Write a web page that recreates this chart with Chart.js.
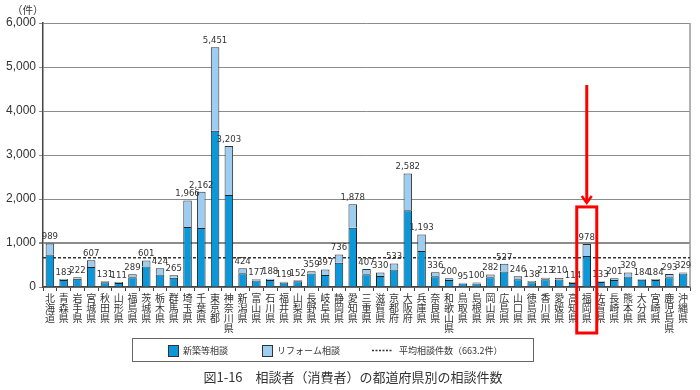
<!DOCTYPE html>
<html>
<head>
<meta charset="utf-8">
<script src="https://cdn.jsdelivr.net/npm/chart.js@4"></script>
<style>
  body { margin: 0; background: #fff; }
</style>
</head>
<body>
<canvas id="canvas" width="700" height="390"></canvas>
<script>
var categories = ['北海道','青森県','岩手県','宮城県','秋田県','山形県','福島県','茨城県','栃木県','群馬県',
  '埼玉県','千葉県','東京都','神奈川県','新潟県','富山県','石川県','福井県','山梨県','長野県',
  '岐阜県','静岡県','愛知県','三重県','滋賀県','京都府','大阪府','兵庫県','奈良県','和歌山県',
  '鳥取県','島根県','岡山県','広島県','山口県','徳島県','香川県','愛媛県','高知県','福岡県',
  '佐賀県','長崎県','熊本県','大分県','宮崎県','鹿児島県','沖縄県'];
var newBuild = [740,160,190,455,106,90,220,465,285,210,
  1364,1340,3553,2090,315,150,160,100,130,305,
  275,553,1348,290,250,400,1742,820,245,160,
  82,82,220,350,176,110,175,170,92,705,
  115,160,238,165,160,220,305];
var reform = [249,23,32,152,25,21,69,136,139,55,
  602,822,1898,1113,109,27,28,19,22,54,
  122,183,530,117,80,133,840,373,91,40,
  13,18,62,177,70,28,38,40,22,273,
  18,41,91,19,24,73,24];
var yTicks = [0,1000,2000,3000,4000,5000,6000];
var averageValue = 663.2;
var highlightIndex = 39;

var darkBlue = '#0a98da';
var lightBlue = '#9dcdf0';
var jp = "'Noto Sans CJK JP', 'Noto Sans', sans-serif";

var extras = {
  id: 'extras',
  beforeDatasetsDraw: function(chart) {
    var c = chart.ctx, a = chart.chartArea, y = chart.scales.y;
    c.save();
    c.strokeStyle = '#999';
    c.lineWidth = 1.5;
    c.beginPath();
    c.moveTo(a.right, a.top);
    c.lineTo(a.right, a.bottom);
    c.stroke();
    var ay = y.getPixelForValue(averageValue);
    c.strokeStyle = '#333';
    c.setLineDash([3, 2]);
    c.beginPath();
    c.moveTo(a.left, ay);
    c.lineTo(a.right, ay);
    c.stroke();
    c.restore();
  },
  afterDatasetsDraw: function(chart) {
    var c = chart.ctx;
    var top = chart.getDatasetMeta(1).data;
    c.save();
    c.font = "9.5px 'Liberation Sans Narrow', 'DejaVu Sans Condensed', sans-serif";
    c.fillStyle = '#333';
    c.textAlign = 'center';
    c.textBaseline = 'bottom';
    top.forEach(function(el, i) {
      var total = newBuild[i] + reform[i];
      c.fillText(total.toLocaleString('en-US'), el.x, el.y - 2);
    });
    c.restore();
  },
  afterDraw: function(chart) {
    var c = chart.ctx, a = chart.chartArea, x = chart.scales.x, y = chart.scales.y;
    c.save();
    // unit
    c.font = '10.5px ' + jp;
    c.fillStyle = '#333';
    c.textBaseline = 'middle';
    c.fillText('（件）', 12, 10);

    // highlight
    var hx = x.getPixelForValue(highlightIndex);
    c.strokeStyle = '#ff0000';
    c.lineWidth = 3;
    c.strokeRect(hx - 10, y.getPixelForValue(1820), 20, a.bottom + 46 - y.getPixelForValue(1820));
    var tipY = y.getPixelForValue(1910);
    c.beginPath();
    c.moveTo(hx, y.getPixelForValue(4590));
    c.lineTo(hx, tipY - 1);
    c.stroke();
    c.lineWidth = 2.5;
    c.beginPath();
    c.moveTo(hx - 5, tipY - 7);
    c.lineTo(hx, tipY);
    c.lineTo(hx + 5, tipY - 7);
    c.stroke();

    // legend
    c.lineWidth = 1;
    c.strokeStyle = '#666';
    c.strokeRect(132.5, 338.5, 401, 23);
    c.strokeStyle = '#333';
    c.fillStyle = darkBlue;
    c.fillRect(168, 345, 11, 12);
    c.strokeRect(168.5, 345.5, 10, 11);
    c.fillStyle = lightBlue;
    c.fillRect(262, 345, 11, 12);
    c.strokeRect(262.5, 345.5, 10, 11);
    c.lineWidth = 1.5;
    c.setLineDash([2, 1.5]);
    c.beginPath();
    c.moveTo(372, 350.5);
    c.lineTo(393, 350.5);
    c.stroke();
    c.setLineDash([]);
    c.fillStyle = '#333';
    c.font = '9px ' + jp;
    c.textBaseline = 'middle';
    c.fillText('新築等相談', 183, 351);
    c.fillText('リフォーム相談', 277, 351);
    c.fillText('平均相談件数（663.2件）', 399, 351);

    // caption
    c.font = '13px ' + jp;
    c.textAlign = 'center';
    c.fillText('図1-16　相談者（消費者）の都道府県別の相談件数', 353, 377);
    c.restore();
  }
};

var ctx = document.getElementById('canvas').getContext('2d');
var myChart = new Chart(ctx, {
  type: 'bar',
  data: {
    labels: categories.map(function(s) { return s.split(''); }),
    datasets: [{
      label: '新築等相談',
      data: newBuild,
      backgroundColor: darkBlue,
      borderColor: '#222',
      borderWidth: 1,
      categoryPercentage: 1,
      barPercentage: 0.62
    }, {
      label: 'リフォーム相談',
      data: reform,
      backgroundColor: lightBlue,
      borderColor: '#333',
      borderWidth: 1,
      categoryPercentage: 1,
      barPercentage: 0.62
    }]
  },
  options: {
    responsive: false,
    animation: false,
    layout: { padding: { top: 23, right: 10, bottom: 53, left: 0 } },
    plugins: { legend: { display: false }, tooltip: { enabled: false } },
    scales: {
      x: {
        stacked: true,
        grid: { drawOnChartArea: false, tickLength: 4, color: '#444' },
        border: { color: '#444', width: 1.5 },
        ticks: {
          autoSkip: false, maxRotation: 0, minRotation: 0, padding: 2,
          color: '#333',
          font: { family: jp, size: 10, lineHeight: 1 }
        },
        afterFit: function(s) { s.height = 50; }
      },
      y: {
        stacked: true,
        min: 0,
        max: 6000,
        afterBuildTicks: function(s) { s.ticks = yTicks.map(function(v) { return { value: v }; }); },
        ticks: {
          color: '#333',
          padding: 3,
          font: { family: "'Liberation Sans', Arial, sans-serif", size: 12 },
          callback: function(v) { return v.toLocaleString('en-US'); }
        },
        grid: {
          color: '#8c8c8c',
          tickLength: 4,
          lineWidth: function(c) { return c.tick && c.tick.value === 1000 ? 2 : 1; }
        },
        border: { color: '#444', width: 1.5 },
        afterFit: function(s) { s.width = 43; }
      }
    }
  },
  plugins: [extras]
});
</script>
</body>
</html>
